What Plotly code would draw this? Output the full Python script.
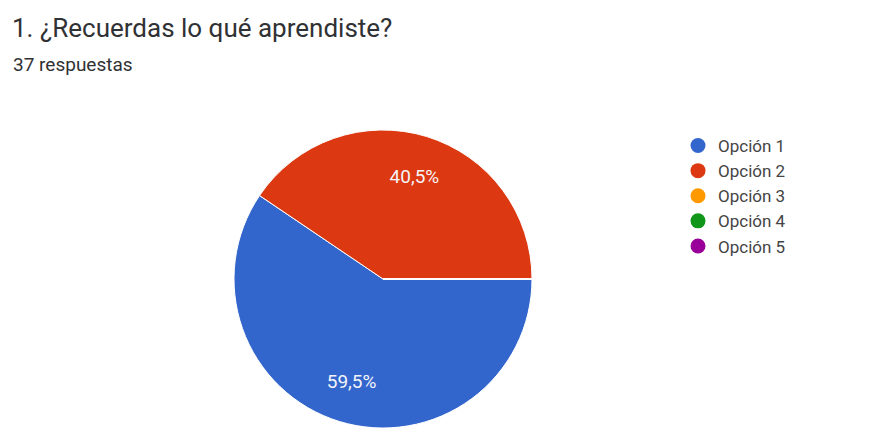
import plotly.graph_objects as go

W, H = 875, 428

labels = ["Opción 1", "Opción 2", "Opción 3", "Opción 4", "Opción 5"]
counts = [22, 15, 0, 0, 0]
colors = ["#3366cc", "#dc3912", "#ff9900", "#109618", "#990099"]
title_text = "1. ¿Recuerdas lo qué aprendiste?"
subtitle_text = "37 respuestas"

pie_domain = dict(x=[234 / W, 532 / W], y=[0, 298 / H])

fig = go.Figure()

# Filled pie (no text)
fig.add_trace(go.Pie(
    labels=labels,
    values=counts,
    marker=dict(colors=colors, line=dict(color="white", width=1)),
    sort=False,
    direction="clockwise",
    rotation=90,
    textinfo="none",
    showlegend=False,
    hoverinfo="label+percent",
    domain=pie_domain,
))

# Transparent ring overlay: places percentage labels at ~72% of the radius
fig.add_trace(go.Pie(
    labels=labels,
    values=counts,
    hole=0.44,
    marker=dict(colors=["rgba(0,0,0,0)"] * len(labels), line=dict(width=0)),
    sort=False,
    direction="clockwise",
    rotation=90,
    texttemplate="%{percent:.1%}",
    textposition="inside",
    insidetextorientation="horizontal",
    textfont=dict(family="Roboto", size=19, color="#f4f4f8"),
    showlegend=False,
    hoverinfo="skip",
    domain=pie_domain,
))

for lab, col in zip(labels, colors):
    fig.add_trace(go.Scatter(
        x=[None], y=[None], mode="markers", name=lab,
        legendgroup=lab,
        marker=dict(color=col, size=15, symbol="circle"),
        showlegend=True,
    ))

fig.update_layout(
    width=W, height=H,
    margin=dict(l=0, r=0, t=0, b=0),
    paper_bgcolor="white", plot_bgcolor="white",
    separators=",.",
    font=dict(family="Roboto", color="#202124"),
    title=dict(
        text=title_text, x=12 / W, xanchor="left", xref="paper",
        y=1 - 28 / H, yanchor="middle", yref="container",
        font=dict(family="Roboto", size=26, color="#303134"),
    ),
    annotations=[dict(
        text=subtitle_text, x=11 / W, xanchor="left", xref="paper",
        y=1 - 64 / H, yanchor="middle", yref="paper", showarrow=False,
        font=dict(family="Roboto", size=19, color="#303134"),
    )],
    xaxis=dict(visible=False), yaxis=dict(visible=False),
    legend=dict(
        x=678 / W, xanchor="left", y=1 - 128 / H, yanchor="top",
        font=dict(family="Roboto", size=17, color="#444444"),
        tracegroupgap=0, itemwidth=30, bgcolor="rgba(0,0,0,0)",
    ),
)

fig.write_html("out.html")
